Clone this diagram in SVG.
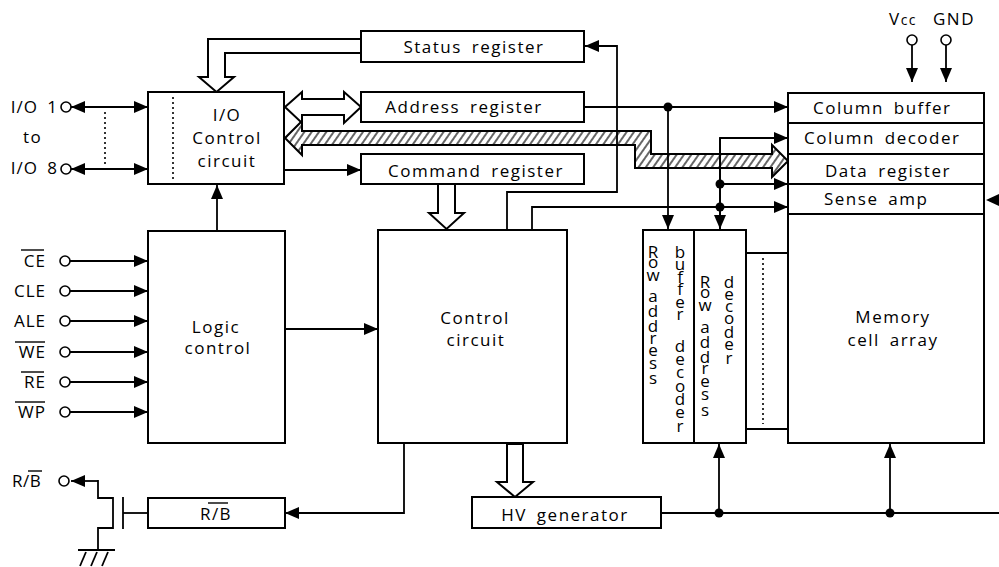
<svg xmlns="http://www.w3.org/2000/svg" width="999" height="567" viewBox="0 0 999 567">
<style>
.b{fill:#fff;stroke:#000;stroke-width:2}
.l{fill:none;stroke:#000;stroke-width:1.8}
.a{marker-end:url(#ah)}
.aa{marker-start:url(#ahs);marker-end:url(#ah)}
.d{fill:none;stroke:#000;stroke-width:1.6;stroke-dasharray:2 3}
.h{fill:url(#hatch);stroke:#000;stroke-width:2}
.t{font-family:'Open Sans','Noto Sans',sans-serif;font-size:17px;letter-spacing:1.5px;word-spacing:4px;fill:#000;text-anchor:middle}
.s{text-anchor:start}
.e{text-anchor:end;letter-spacing:1px}
.v{font-family:'Open Sans','Noto Sans',sans-serif;font-size:17px;fill:#000;text-anchor:middle}
.o{stroke:#000;stroke-width:1.4}
.pin{fill:#fff;stroke:#000;stroke-width:1.6}
.dot{fill:#000}
</style>
<defs>
<marker id="ah" viewBox="0 0 14 12" refX="14" refY="6" markerWidth="14" markerHeight="12" markerUnits="userSpaceOnUse" orient="auto"><path d="M0,0L14,6L0,12z"/></marker>
<marker id="ahs" viewBox="0 0 14 12" refX="14" refY="6" markerWidth="14" markerHeight="12" markerUnits="userSpaceOnUse" orient="auto-start-reverse"><path d="M0,0L14,6L0,12z"/></marker>
<pattern id="hatch" patternUnits="userSpaceOnUse" width="6" height="6" patternTransform="rotate(35)"><rect width="6" height="6" fill="#fff"/><line x1="1" y1="0" x2="1" y2="6" stroke="#000" stroke-width="1.2"/></pattern>
</defs>
<rect width="999" height="567" fill="#fff"/>

<g id="buses">
<polygon class="b" points="361,39 208,39 208,77 199,77 216.5,92 234,77 225,77 225,53 361,53"/>
<polygon class="b" points="285,107 302,92 302,99 344,99 344,92 361,107 344,123 344,115 302,115 302,123"/>
<polygon class="h" points="285,138 302,121 302,131 651,131 651,154 772,154 772,145 788,161 772,177 772,168 635,168 635,145 302,145 302,155"/>
<polygon class="b" points="438,184 438,213 429,213 446.5,229 464,213 455,213 455,184"/>
<polygon class="b" points="507,444 507,482 497,482 515,497 533,482 523,482 523,444"/>
</g>

<g id="connectors">
<line class="l aa" x1="71" y1="107" x2="148" y2="107"/>
<line class="l aa" x1="71" y1="169" x2="148" y2="169"/>
<line class="d" x1="105" y1="112" x2="105" y2="165"/>
<line class="l a" x1="70" y1="261" x2="148" y2="261"/>
<line class="l a" x1="70" y1="291" x2="148" y2="291"/>
<line class="l a" x1="70" y1="321" x2="148" y2="321"/>
<line class="l a" x1="70" y1="352" x2="148" y2="352"/>
<line class="l a" x1="70" y1="382" x2="148" y2="382"/>
<line class="l a" x1="70" y1="412" x2="148" y2="412"/>
<line class="l a" x1="217" y1="231" x2="217" y2="185"/>
<line class="l a" x1="285" y1="329" x2="378" y2="329"/>
<line class="l a" x1="284" y1="170" x2="361" y2="170"/>
<polyline class="l a" points="507,230 507,192 617,192 617,46 585,46"/>
<polyline class="l a" points="532,230 532,207 788,207"/>
<line class="l a" x1="584" y1="107" x2="788" y2="107"/>
<line class="l a" x1="668" y1="107" x2="668" y2="229"/>
<polyline class="l a" points="720,229 720,138 788,138"/>
<line class="l a" x1="720" y1="138" x2="720" y2="229"/>
<line class="l a" x1="720" y1="184" x2="788" y2="184"/>
<circle class="dot" cx="668" cy="107" r="4.5"/>
<circle class="dot" cx="720" cy="184" r="4.5"/>
<circle class="dot" cx="720" cy="207" r="4.5"/>
<polygon points="986,200 999,194 999,206"/>
<line class="l a" x1="912" y1="45" x2="912" y2="82"/>
<line class="l a" x1="946" y1="45" x2="946" y2="82"/>
<polyline class="l a" points="404,443 404,513 285,513"/>
<line class="l" x1="661" y1="513" x2="999" y2="513"/>
<line class="l a" x1="719" y1="513" x2="719" y2="444"/>
<line class="l a" x1="890" y1="513" x2="890" y2="444"/>
<circle class="dot" cx="719" cy="513" r="4.5"/>
<circle class="dot" cx="890" cy="513" r="4.5"/>
<line class="l" x1="746" y1="253" x2="788" y2="253"/>
<line class="l" x1="746" y1="429" x2="788" y2="429"/>
<line class="d" x1="763" y1="258" x2="763" y2="424"/>
<line class="l a" x1="98" y1="481" x2="71" y2="481"/>
<polyline class="l" points="97,481 98,481 98,498 113,498 113,528 98,528 98,550"/>
<line class="l" x1="123" y1="497" x2="123" y2="529"/>
<line class="l" x1="123" y1="513" x2="148" y2="513"/>
<line class="l" x1="78" y1="550" x2="115" y2="550"/>
<line class="l" x1="80" y1="566" x2="86" y2="552"/>
<line class="l" x1="91" y1="566" x2="97" y2="552"/>
<line class="l" x1="102" y1="566" x2="108" y2="552"/>
</g>

<g id="io-control">
<rect class="b" x="148" y="92" width="136" height="92"/>
<line class="d" x1="173" y1="97" x2="173" y2="179"/>
<text class="t" x="227" y="121">I/O</text>
<text class="t" x="227" y="144">Control</text>
<text class="t" x="227" y="167">circuit</text>
</g>
<g id="status-register"><rect class="b" x="361" y="31" width="223" height="31"/><text class="t" x="474" y="53">Status register</text></g>
<g id="address-register"><rect class="b" x="361" y="92" width="223" height="30"/><text class="t" x="464" y="113">Address register</text></g>
<g id="command-register"><rect class="b" x="361" y="154" width="223" height="30"/><text class="t" x="476" y="177">Command register</text></g>
<g id="logic-control"><rect class="b" x="148" y="231" width="137" height="212"/><text class="t" x="216" y="333">Logic</text><text class="t" x="218" y="354">control</text></g>
<g id="control-circuit"><rect class="b" x="378" y="230" width="189" height="213"/><text class="t" x="475" y="324">Control</text><text class="t" x="476" y="346">circuit</text></g>
<g id="hv-generator"><rect class="b" x="472" y="497" width="189" height="31"/><text class="t" x="565" y="521">HV generator</text></g>
<g id="rb-block"><rect class="b" x="148" y="498" width="137" height="30"/><text class="t" x="216" y="520">R/B</text><line class="o" x1="208" y1="503" x2="228" y2="503"/></g>
<g id="row-address-buffer"><rect class="b" x="643" y="230" width="51" height="213"/>
<text class="v"><tspan x="653" y="258">R</tspan><tspan x="653" y="268">o</tspan><tspan x="653" y="281">w</tspan><tspan x="653" y="302">a</tspan><tspan x="653" y="317">d</tspan><tspan x="653" y="332">d</tspan><tspan x="653" y="344">r</tspan><tspan x="653" y="356">e</tspan><tspan x="653" y="369">s</tspan><tspan x="653" y="384">s</tspan></text>
<text class="v"><tspan x="680" y="258">b</tspan><tspan x="680" y="270">u</tspan><tspan x="680" y="283">f</tspan><tspan x="680" y="295">f</tspan><tspan x="680" y="308">e</tspan><tspan x="680" y="320">r</tspan><tspan x="680" y="352">d</tspan><tspan x="680" y="365">e</tspan><tspan x="680" y="378">c</tspan><tspan x="680" y="392">o</tspan><tspan x="680" y="405">d</tspan><tspan x="680" y="418">e</tspan><tspan x="680" y="432">r</tspan></text>
</g>
<g id="row-address-decoder"><rect class="b" x="694" y="230" width="52" height="213"/>
<text class="v"><tspan x="705" y="288">R</tspan><tspan x="705" y="298">o</tspan><tspan x="705" y="311">w</tspan><tspan x="705" y="333">a</tspan><tspan x="705" y="348">d</tspan><tspan x="705" y="363">d</tspan><tspan x="705" y="374">r</tspan><tspan x="705" y="387">e</tspan><tspan x="705" y="400">s</tspan><tspan x="705" y="416">s</tspan></text>
<text class="v"><tspan x="729" y="288">d</tspan><tspan x="729" y="300">e</tspan><tspan x="729" y="312">c</tspan><tspan x="729" y="324">o</tspan><tspan x="729" y="338">d</tspan><tspan x="729" y="350">e</tspan><tspan x="729" y="364">r</tspan></text>
</g>
<g id="column-buffer"><rect class="b" x="788" y="93" width="196" height="30"/><text class="t s" x="813" y="114">Column buffer</text></g>
<g id="column-decoder"><rect class="b" x="788" y="123" width="196" height="31"/><text class="t s" x="804" y="144">Column decoder</text></g>
<g id="data-register"><rect class="b" x="788" y="154" width="196" height="30"/><text class="t s" x="825" y="177">Data register</text></g>
<g id="sense-amp"><rect class="b" x="788" y="184" width="196" height="30"/><text class="t s" x="824" y="205">Sense amp</text></g>
<g id="memory-cell-array"><rect class="b" x="788" y="214" width="196" height="229"/><text class="t" x="893" y="323">Memory</text><text class="t" x="893" y="346">cell array</text></g>

<g id="pins">
<g id="pin-io1"><text class="t e" x="58" y="113">I/O 1</text><circle class="pin" cx="66" cy="107" r="5"/></g>
<text class="t s" x="23" y="143">to</text>
<g id="pin-io8"><text class="t e" x="58" y="174">I/O 8</text><circle class="pin" cx="66" cy="169" r="5"/></g>
<g id="pin-ce"><text class="t e" x="46" y="267">CE</text><line class="o" x1="21" y1="250" x2="44" y2="250"/><circle class="pin" cx="65" cy="261" r="5"/></g>
<g id="pin-cle"><text class="t e" x="46" y="297">CLE</text><circle class="pin" cx="65" cy="291" r="5"/></g>
<g id="pin-ale"><text class="t e" x="46" y="327">ALE</text><circle class="pin" cx="65" cy="321" r="5"/></g>
<g id="pin-we"><text class="t e" x="46" y="358">WE</text><line class="o" x1="15" y1="342" x2="45" y2="342"/><circle class="pin" cx="65" cy="352" r="5"/></g>
<g id="pin-re"><text class="t e" x="46" y="388">RE</text><line class="o" x1="21" y1="372" x2="44" y2="372"/><circle class="pin" cx="65" cy="382" r="5"/></g>
<g id="pin-wp"><text class="t e" x="46" y="418">WP</text><line class="o" x1="15" y1="402" x2="45" y2="402"/><circle class="pin" cx="65" cy="412" r="5"/></g>
<g id="pin-rb"><text class="t s" x="12" y="487" style="letter-spacing:0.5px">R/B</text><line class="o" x1="28" y1="471" x2="42" y2="471"/><circle class="pin" cx="64" cy="481" r="5"/></g>
<g id="pin-vcc"><text class="t s" x="889" y="25">V<tspan font-size="14">cc</tspan></text><circle class="pin" cx="912" cy="40" r="5"/></g>
<g id="pin-gnd"><text class="t s" x="933" y="25">GND</text><circle class="pin" cx="946" cy="40" r="5"/></g>
</g>
</svg>
